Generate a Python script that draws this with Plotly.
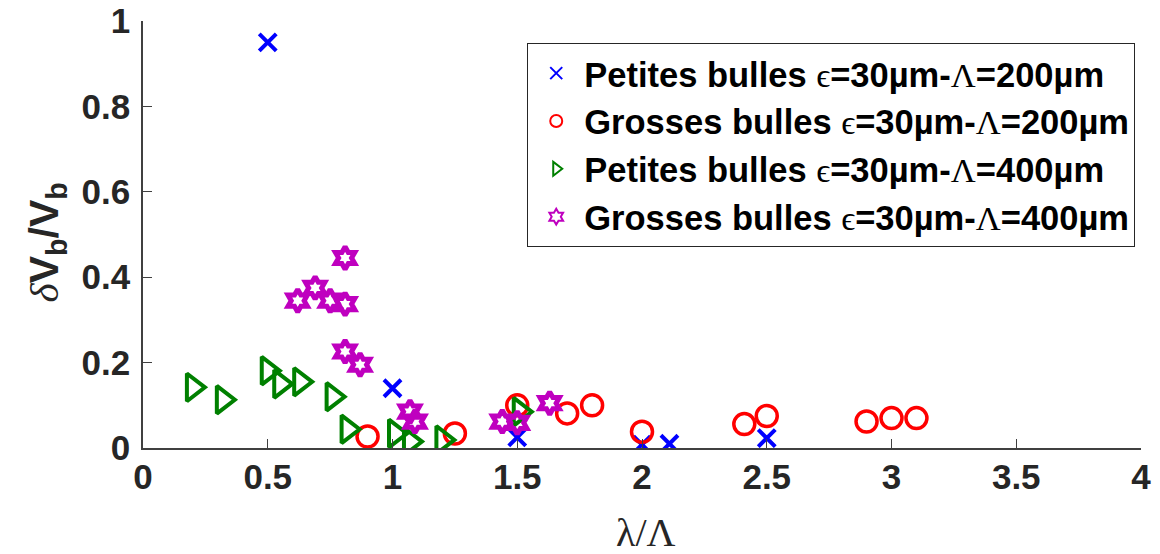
import plotly.graph_objects as go

# Petites bulles eps=30um - Lambda=200um
pb200_x = [0.5, 1.0, 1.5, 2.0, 2.11, 2.5]
pb200_y = [0.95, 0.14, 0.025, 0.008, 0.01, 0.023]

# Grosses bulles eps=30um - Lambda=200um
gb200_x = [0.9, 1.25, 1.5, 1.7, 1.8, 2.0, 2.41, 2.5, 2.9, 3.0, 3.1]
gb200_y = [0.027, 0.034, 0.10, 0.081, 0.10, 0.038, 0.056, 0.075, 0.062, 0.07, 0.07]

# Petites bulles eps=30um - Lambda=400um
pb400_x = [0.2, 0.32, 0.5, 0.55, 0.63, 0.76, 0.82, 1.01, 1.07, 1.2, 1.51]
pb400_y = [0.142, 0.113, 0.181, 0.15, 0.155, 0.12, 0.044, 0.034, 0.015, 0.019, 0.085]

# Grosses bulles eps=30um - Lambda=400um
gb400_x = [0.81, 0.62, 0.69, 0.75, 0.81, 0.81, 0.87, 1.07, 1.09, 1.44, 1.5, 1.63]
gb400_y = [0.445, 0.345, 0.375, 0.345, 0.337, 0.226, 0.195, 0.085, 0.062, 0.062, 0.059, 0.105]

x_ticks = [0, 0.5, 1, 1.5, 2, 2.5, 3, 3.5, 4]
x_ticklabels = ["0", "0.5", "1", "1.5", "2", "2.5", "3", "3.5", "4"]
y_ticks = [0, 0.2, 0.4, 0.6, 0.8, 1]
y_ticklabels = ["0", "0.2", "0.4", "0.6", "0.8", "1"]

SERIF = "<span style=\"font-family:'Liberation Serif';font-weight:normal\">"
def lab(kind, lam):
    return (f"{kind} bulles {SERIF}\u03f5</span>=30\u00b5m-{SERIF}\u039b</span>={lam}\u00b5m")

fig = go.Figure()
fig.add_trace(go.Scatter(x=pb200_x, y=pb200_y, mode="markers", name=lab("Petites", 200),
                         marker=dict(symbol="x-thin-open", size=17, color="#0000ff",
                                     line=dict(width=4, color="#0000ff"))))
fig.add_trace(go.Scatter(x=gb200_x, y=gb200_y, mode="markers", name=lab("Grosses", 200),
                         marker=dict(symbol="circle-open", size=21, color="#ff0000",
                                     line=dict(width=3.5, color="#ff0000"))))
fig.add_trace(go.Scatter(x=pb400_x, y=pb400_y, mode="markers", name=lab("Petites", 400),
                         marker=dict(symbol="triangle-right-open", size=24, color="#008000",
                                     line=dict(width=4, color="#008000"))))
fig.add_trace(go.Scatter(x=gb400_x, y=gb400_y, mode="markers", name=lab("Grosses", 400),
                         marker=dict(symbol="hexagram-open", size=17, color="#bf00bf",
                                     line=dict(width=5, color="#bf00bf"))))

axis_common = dict(showline=True, linecolor="#404040", linewidth=1.5, mirror=False,
                   ticks="inside", ticklen=9, tickwidth=1.2, tickcolor="#404040",
                   showgrid=False, zeroline=False, automargin=False,
                   ticklabeloverflow="allow",
                   tickfont=dict(family="Liberation Sans", size=35, color="#262626", weight="bold"))

fig.update_xaxes(range=[0, 4], tickvals=x_ticks, ticktext=x_ticklabels,
                 ticklabelstandoff=-3, **axis_common)
fig.update_yaxes(range=[0, 1], tickvals=y_ticks, ticktext=y_ticklabels,
                 ticklabelstandoff=4, **axis_common)

fig.add_annotation(text="\u03bb/\u039b", xref="paper", yref="paper", x=0.504, y=-0.199,
                   xanchor="center", yanchor="middle", showarrow=False,
                   font=dict(family="Liberation Serif", size=40, color="#262626"))
fig.add_annotation(text="<span style=\"font-family:'Liberation Serif';font-weight:normal;font-style:italic\">\u03b4</span>V<sub>b</sub>/V<sub>b</sub>",
                   xref="paper", yref="paper", x=-0.096, y=0.482, textangle=-90,
                   xanchor="center", yanchor="middle", showarrow=False,
                   font=dict(family="Liberation Sans", size=41, color="#262626", weight="bold"))

fig.update_layout(
    width=1160, height=554,
    margin=dict(l=143, r=19, t=21, b=106),
    plot_bgcolor="white", paper_bgcolor="white",
    showlegend=True,
    legend=dict(x=0.385, y=0.948, xanchor="left", yanchor="top",
                bgcolor="white", bordercolor="#262626", borderwidth=1,
                font=dict(family="Liberation Sans", size=34.5, color="black", weight="bold"),
                itemsizing="constant", itemwidth=46, tracegroupgap=0),
)

fig.write_html("out.html", config={"displayModeBar": False},
               post_script="document.body.style.margin='0px';")
